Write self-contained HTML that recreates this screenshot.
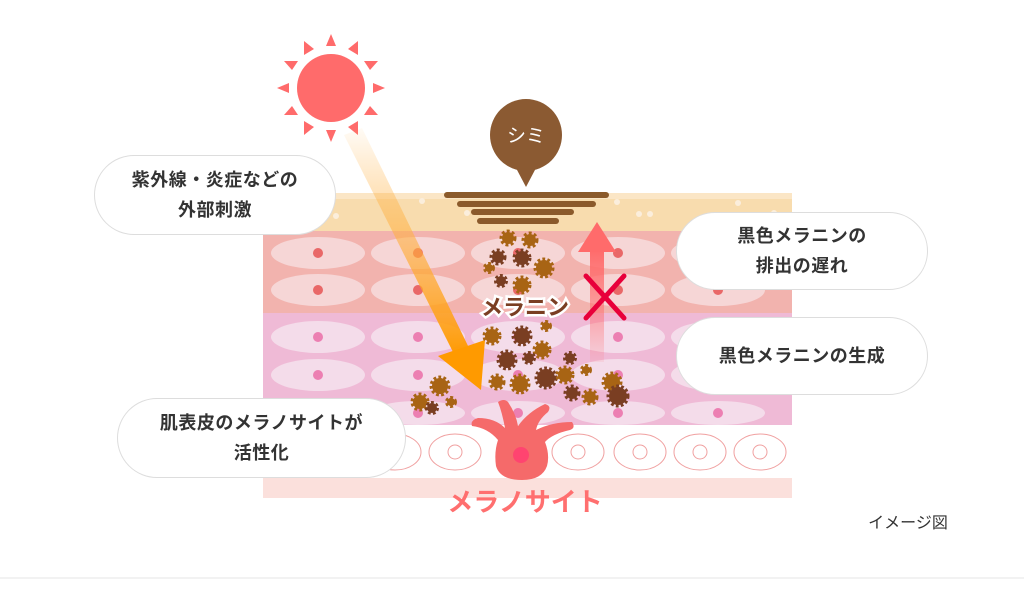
<!DOCTYPE html>
<html><head><meta charset="utf-8"><style>
html,body{margin:0;padding:0;background:#fff;}
body{width:1024px;height:590px;position:relative;overflow:hidden;font-family:"Liberation Sans","Noto Sans CJK JP",sans-serif;}
.b{position:absolute;background:#fff;border:1.5px solid #ddd;border-radius:40px;box-sizing:border-box;display:flex;align-items:center;justify-content:center;text-align:center;color:#333;font-size:18px;font-weight:bold;line-height:30px;letter-spacing:0.5px;}
</style></head><body>
<svg width="1024" height="590" style="position:absolute;left:0;top:0">
<defs>
<linearGradient id="og" x1="0" y1="0" x2="0" y2="1"><stop offset="0" stop-color="#ffb040" stop-opacity="0.05"/><stop offset="0.5" stop-color="#ffb040" stop-opacity="0.6"/><stop offset="1" stop-color="#ff9a00"/></linearGradient>
<linearGradient id="pg" x1="0" y1="1" x2="0" y2="0"><stop offset="0" stop-color="#ff6b6b" stop-opacity="0.1"/><stop offset="1" stop-color="#ff6b6b"/></linearGradient>
</defs>
<rect x="263" y="193" width="529" height="38" fill="#f8dcae"/>
<rect x="263" y="193" width="529" height="6" fill="#fbe6c6"/>
<g fill="#fbeedc"><circle cx="422" cy="201" r="3"/><circle cx="467" cy="213" r="3"/><circle cx="617" cy="202" r="3"/><circle cx="639" cy="214" r="3"/><circle cx="650" cy="214" r="3"/><circle cx="738" cy="203" r="3"/><circle cx="774" cy="213" r="3"/><circle cx="336" cy="216" r="3"/></g>
<rect x="263" y="231" width="529" height="82" fill="#f2b3ae"/>
<rect x="263" y="313" width="529" height="112" fill="#efbad6"/>
<rect x="263" y="478" width="529" height="20" fill="#fbe0dc"/>
<g fill="#f6d6d6">
<ellipse cx="318" cy="253" rx="47" ry="16"/><ellipse cx="418" cy="253" rx="47" ry="16"/><ellipse cx="518" cy="253" rx="47" ry="16"/><ellipse cx="618" cy="253" rx="47" ry="16"/><ellipse cx="718" cy="253" rx="47" ry="16"/>
<ellipse cx="318" cy="290" rx="47" ry="16"/><ellipse cx="418" cy="290" rx="47" ry="16"/><ellipse cx="518" cy="290" rx="47" ry="16"/><ellipse cx="618" cy="290" rx="47" ry="16"/><ellipse cx="718" cy="290" rx="47" ry="16"/>
</g>
<g fill="#f4dcea">
<ellipse cx="318" cy="337" rx="47" ry="16"/><ellipse cx="418" cy="337" rx="47" ry="16"/><ellipse cx="518" cy="337" rx="47" ry="16"/><ellipse cx="618" cy="337" rx="47" ry="16"/><ellipse cx="718" cy="337" rx="47" ry="16"/>
<ellipse cx="318" cy="375" rx="47" ry="16"/><ellipse cx="418" cy="375" rx="47" ry="16"/><ellipse cx="518" cy="375" rx="47" ry="16"/><ellipse cx="618" cy="375" rx="47" ry="16"/><ellipse cx="718" cy="375" rx="47" ry="16"/>
<ellipse cx="418" cy="413" rx="47" ry="12"/><ellipse cx="518" cy="413" rx="47" ry="12"/><ellipse cx="618" cy="413" rx="47" ry="12"/><ellipse cx="718" cy="413" rx="47" ry="12"/>
</g>
<g fill="#e96868"><circle cx="318" cy="253" r="5"/><circle cx="418" cy="253" r="5"/><circle cx="518" cy="253" r="5"/><circle cx="618" cy="253" r="5"/><circle cx="718" cy="253" r="5"/><circle cx="318" cy="290" r="5"/><circle cx="418" cy="290" r="5"/><circle cx="518" cy="290" r="5"/><circle cx="618" cy="290" r="5"/><circle cx="718" cy="290" r="5"/></g>
<g fill="#ec7fb2"><circle cx="318" cy="337" r="5"/><circle cx="418" cy="337" r="5"/><circle cx="518" cy="337" r="5"/><circle cx="618" cy="337" r="5"/><circle cx="718" cy="337" r="5"/><circle cx="318" cy="375" r="5"/><circle cx="418" cy="375" r="5"/><circle cx="518" cy="375" r="5"/><circle cx="618" cy="375" r="5"/><circle cx="718" cy="375" r="5"/><circle cx="418" cy="413" r="5"/><circle cx="518" cy="413" r="5"/><circle cx="618" cy="413" r="5"/><circle cx="718" cy="413" r="5"/></g>
<g fill="none" stroke="#f0a0a0" stroke-width="1">
<ellipse cx="395" cy="452" rx="26" ry="18"/><ellipse cx="455" cy="452" rx="26" ry="18"/><ellipse cx="578" cy="452" rx="26" ry="18"/><ellipse cx="640" cy="452" rx="26" ry="18"/><ellipse cx="700" cy="452" rx="26" ry="18"/><ellipse cx="760" cy="452" rx="26" ry="18"/>
<circle cx="395" cy="452" r="7"/><circle cx="455" cy="452" r="7"/><circle cx="578" cy="452" r="7"/><circle cx="640" cy="452" r="7"/><circle cx="700" cy="452" r="7"/><circle cx="760" cy="452" r="7"/>
</g>
<!-- melanocyte -->
<path fill="#f56a6a" d="M498 440 Q488 428 472 426 Q470 420 478 418 Q495 418 505 428 Q502 412 498 402 Q504 398 508 402 Q516 414 518 426 Q528 412 545 404 Q552 406 548 412 Q538 420 536 430 Q552 422 572 422 Q576 428 570 430 Q552 434 545 442 Q550 455 547 466 Q542 480 522 480 Q500 480 496 466 Q494 452 498 440 Z"/>
<circle cx="521" cy="455" r="8" fill="#ff4470"/>
<g stroke="#8b5a2b" stroke-width="6" stroke-linecap="round">
<line x1="447" y1="195" x2="606" y2="195"/><line x1="460" y1="204" x2="593" y2="204"/><line x1="474" y1="212" x2="571" y2="212"/><line x1="480" y1="221" x2="556" y2="221"/>
</g>
<circle cx="526" cy="135" r="36" fill="#8b5a32"/>
<path d="M516 168 L526 187 L536 168 Z" fill="#8b5a32"/>
<text x="526" y="142" font-size="19" fill="#fff" text-anchor="middle" font-family="Liberation Sans,Noto Sans CJK JP,sans-serif">シミ</text>
<circle cx="331" cy="88" r="34" fill="#ff6b6b"/>
<g fill="#ff6b6b">
<polygon points="331,34 326,46 336,46"/><polygon points="331,142 326,130 336,130"/>
<polygon points="277,88 289,83 289,93"/><polygon points="385,88 373,83 373,93"/>
<polygon points="304,41 304,55 314,49" /><polygon points="358,41 358,55 348,49"/>
<polygon points="304,135 304,121 314,127"/><polygon points="358,135 358,121 348,127"/>
<polygon points="284,61 298,61 292,70"/><polygon points="378,61 364,61 370,70"/>
<polygon points="284,115 298,115 292,106"/><polygon points="378,115 364,115 370,106"/>
</g>
<polygon points="344,135 362,128 470,350 455,356" fill="url(#og)"/>
<polygon points="438,356 485,340 481,390" fill="#ff9a00"/>
<rect x="590" y="250" width="14" height="112" fill="url(#pg)"/>
<polygon points="597,222 578,252 616,252" fill="#ff6b6b"/>
<g stroke-dasharray="2.5 2">
<circle cx="508" cy="238" r="6" fill="#a86414" stroke="#a86414" stroke-width="5"/>
<circle cx="530" cy="240" r="6" fill="#a86414" stroke="#a86414" stroke-width="5"/>
<circle cx="498" cy="257" r="6" fill="#7a3e22" stroke="#7a3e22" stroke-width="5"/>
<circle cx="522" cy="258" r="7" fill="#7a3e22" stroke="#7a3e22" stroke-width="5"/>
<circle cx="544" cy="268" r="8" fill="#a86414" stroke="#a86414" stroke-width="5"/>
<circle cx="489" cy="268" r="4" fill="#a86414" stroke="#a86414" stroke-width="4"/>
<circle cx="501" cy="281" r="5" fill="#7a3e22" stroke="#7a3e22" stroke-width="4"/>
<circle cx="522" cy="285" r="7" fill="#a86414" stroke="#a86414" stroke-width="5"/>
<circle cx="546" cy="326" r="4" fill="#a86414" stroke="#a86414" stroke-width="4"/>
<circle cx="492" cy="336" r="7" fill="#a86414" stroke="#a86414" stroke-width="5"/>
<circle cx="522" cy="336" r="8" fill="#7a3e22" stroke="#7a3e22" stroke-width="5"/>
<circle cx="542" cy="350" r="7" fill="#a86414" stroke="#a86414" stroke-width="5"/>
<circle cx="507" cy="360" r="8" fill="#7a3e22" stroke="#7a3e22" stroke-width="5"/>
<circle cx="529" cy="358" r="5" fill="#7a3e22" stroke="#7a3e22" stroke-width="4"/>
<circle cx="570" cy="358" r="5" fill="#7a3e22" stroke="#7a3e22" stroke-width="4"/>
<circle cx="497" cy="382" r="6" fill="#a86414" stroke="#a86414" stroke-width="5"/>
<circle cx="520" cy="384" r="8" fill="#a86414" stroke="#a86414" stroke-width="5"/>
<circle cx="546" cy="378" r="9" fill="#7a3e22" stroke="#7a3e22" stroke-width="5"/>
<circle cx="565" cy="375" r="7" fill="#a86414" stroke="#a86414" stroke-width="5"/>
<circle cx="572" cy="393" r="6" fill="#7a3e22" stroke="#7a3e22" stroke-width="5"/>
<circle cx="590" cy="397" r="6" fill="#a86414" stroke="#a86414" stroke-width="5"/>
<circle cx="586" cy="370" r="4" fill="#a86414" stroke="#a86414" stroke-width="4"/>
<circle cx="612" cy="382" r="8" fill="#a86414" stroke="#a86414" stroke-width="5"/>
<circle cx="618" cy="396" r="9" fill="#7a3e22" stroke="#7a3e22" stroke-width="5"/>
<circle cx="440" cy="386" r="8" fill="#a86414" stroke="#a86414" stroke-width="5"/>
<circle cx="451" cy="402" r="4" fill="#a86414" stroke="#a86414" stroke-width="4"/>
<circle cx="420" cy="402" r="7" fill="#a86414" stroke="#a86414" stroke-width="5"/>
<circle cx="432" cy="408" r="5" fill="#7a3e22" stroke="#7a3e22" stroke-width="4"/>
</g>
<text x="525" y="315" font-size="22" font-weight="bold" fill="#7a3e22" stroke="#fff" stroke-width="5" paint-order="stroke" text-anchor="middle" font-family="Liberation Sans,Noto Sans CJK JP,sans-serif">メラニン</text>
<g stroke="#e8003a" stroke-width="5" stroke-linecap="round"><line x1="586" y1="276" x2="624" y2="318"/><line x1="624" y1="276" x2="586" y2="318"/></g>
<text x="525" y="511" font-size="26" font-weight="bold" fill="#ff6f6f" text-anchor="middle" font-family="Liberation Sans,Noto Sans CJK JP,sans-serif">メラノサイト</text>
<text x="908" y="528" font-size="16" fill="#333" text-anchor="middle" font-family="Liberation Sans,Noto Sans CJK JP,sans-serif">イメージ図</text>
<line x1="0" y1="578" x2="1024" y2="578" stroke="#e6e6e6" stroke-width="1"/>
</svg>
<div class="b" style="left:94px;top:155px;width:242px;height:80px;">紫外線・炎症などの<br>外部刺激</div>
<div class="b" style="left:117px;top:398px;width:289px;height:80px;">肌表皮のメラノサイトが<br>活性化</div>
<div class="b" style="left:676px;top:212px;width:252px;height:78px;">黒色メラニンの<br>排出の遅れ</div>
<div class="b" style="left:676px;top:317px;width:252px;height:78px;">黒色メラニンの生成</div>
</body></html>
